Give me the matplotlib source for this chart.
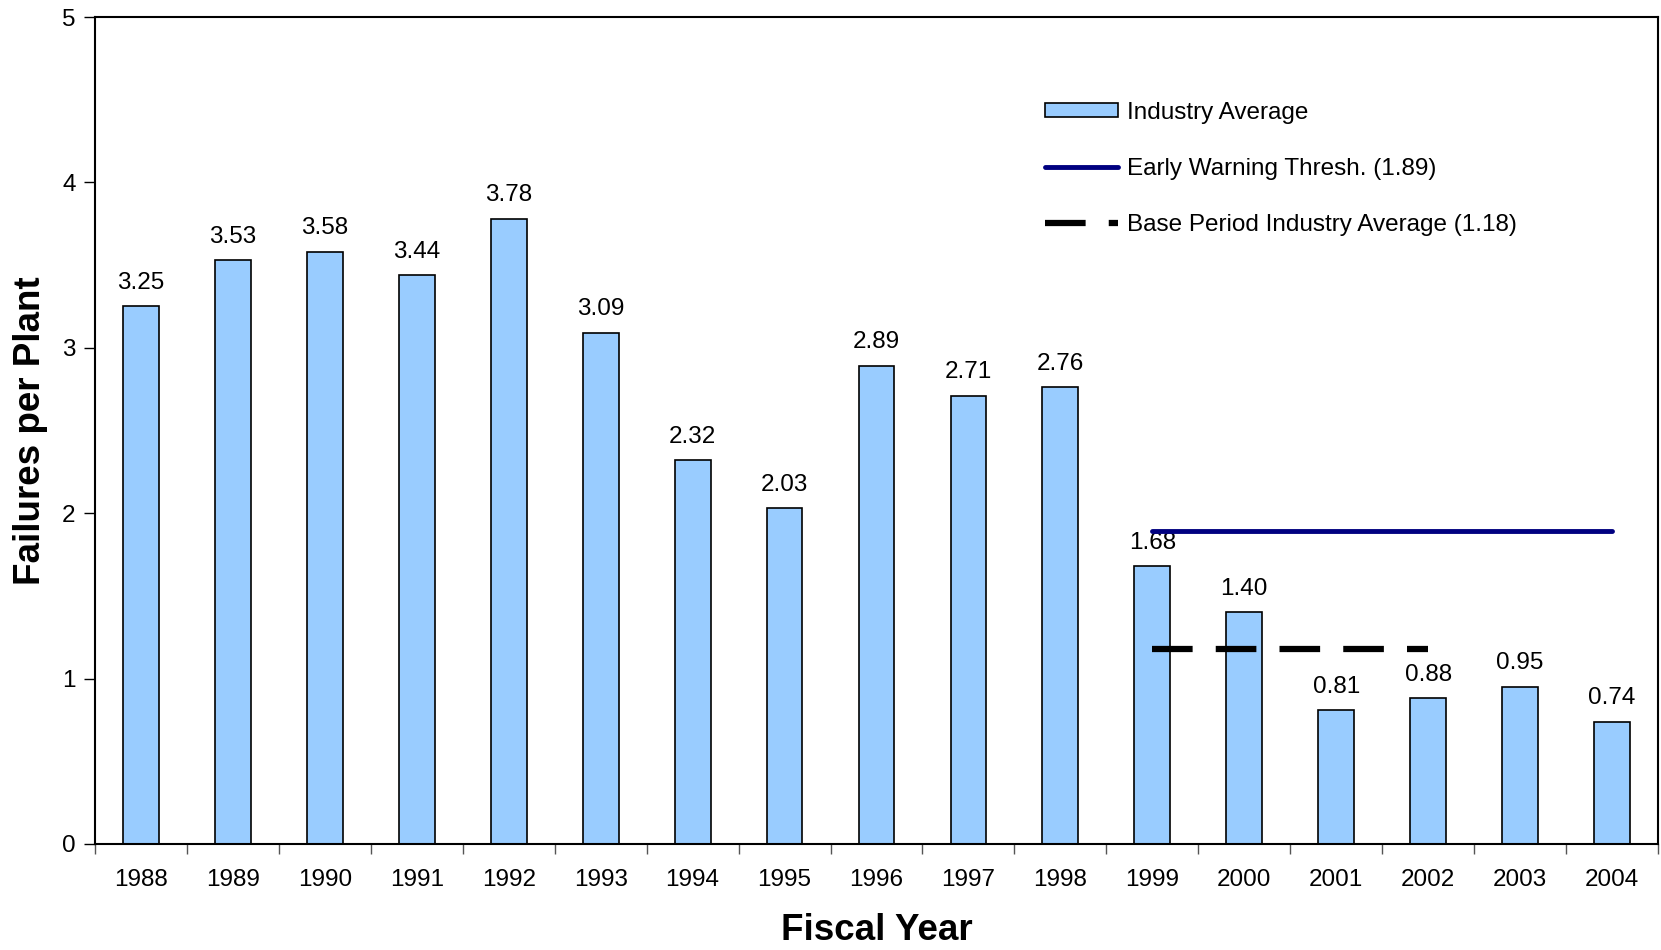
import numpy as np
import matplotlib
matplotlib.use('Agg')
import matplotlib.pyplot as plt
from matplotlib.patches import Patch
from matplotlib.lines import Line2D

years = ['1988', '1989', '1990', '1991', '1992', '1993', '1994', '1995', '1996',
         '1997', '1998', '1999', '2000', '2001', '2002', '2003', '2004']
failures = [3.25, 3.53, 3.58, 3.44, 3.78, 3.09, 2.32, 2.03, 2.89,
            2.71, 2.76, 1.68, 1.40, 0.81, 0.88, 0.95, 0.74]
warn_years = ['1999', '2004']
warn_level = 1.89
base_years = ['1999', '2002']
base_level = 1.18

plt.rcParams['font.family'] = ['Liberation Sans', 'DejaVu Sans']

fig = plt.figure(figsize=(16.61, 9.5), dpi=100)
ax = fig.add_axes([95 / 1661, 1 - 844 / 950, 1563 / 1661, 827 / 950])

x = np.arange(len(years))
bars = ax.bar(x, failures, width=0.39, color='#99CCFF', edgecolor='black', linewidth=1.2, zorder=2)
for xi, v in zip(x, failures):
    ax.annotate(f'{v:.2f}', (xi, v), xytext=(0, 9), textcoords='offset points',
                ha='center', va='bottom', fontsize=17.5)

wx = [years.index(y) for y in warn_years]
ax.plot(wx, [warn_level] * 2, color='#000080', linewidth=3.5, solid_capstyle='round', zorder=3)
bx = [years.index(y) for y in base_years]
ax.plot(bx, [base_level] * 2, color='black', linewidth=4.5, dashes=(6.5, 3.7), zorder=3)

ax.set_xlim(-0.5, len(years) - 0.5)
ax.set_ylim(0, 5)
ax.set_yticks(range(6))
ax.set_xticks(x)
ax.set_xticklabels(years)
ax.set_xticks(np.arange(len(years) + 1) - 0.5, minor=True)
ax.tick_params(axis='x', which='major', length=0, pad=18, labelsize=17.5)
ax.tick_params(axis='x', which='minor', length=7, width=1, color='#555555')
ax.tick_params(axis='y', length=8, width=1, labelsize=17.5, pad=6)
for s in ax.spines.values():
    s.set_linewidth(1.5)

ax.set_xlabel('Fiscal Year', fontsize=26.5, fontweight='bold', labelpad=16)
ax.set_ylabel('Failures per Plant', fontsize=26.5, fontweight='bold', labelpad=10)

handles = [Patch(facecolor='#99CCFF', edgecolor='black', linewidth=1.2),
           Line2D([], [], color='#000080', linewidth=3.5, solid_capstyle='round'),
           Line2D([], [], color='black', linewidth=4.5, dashes=(6.5, 3.7))]
labels = ['Industry Average', 'Early Warning Thresh. (1.89)',
          'Base Period Industry Average (1.18)']
ax.legend(handles, labels, loc='upper left', bbox_to_anchor=(0.594, 0.924), frameon=False,
          fontsize=17.5, handlelength=3.0, handletextpad=0.35, labelspacing=1.4,
          handleheight=0.5)

fig.savefig('out.png', dpi=100)
